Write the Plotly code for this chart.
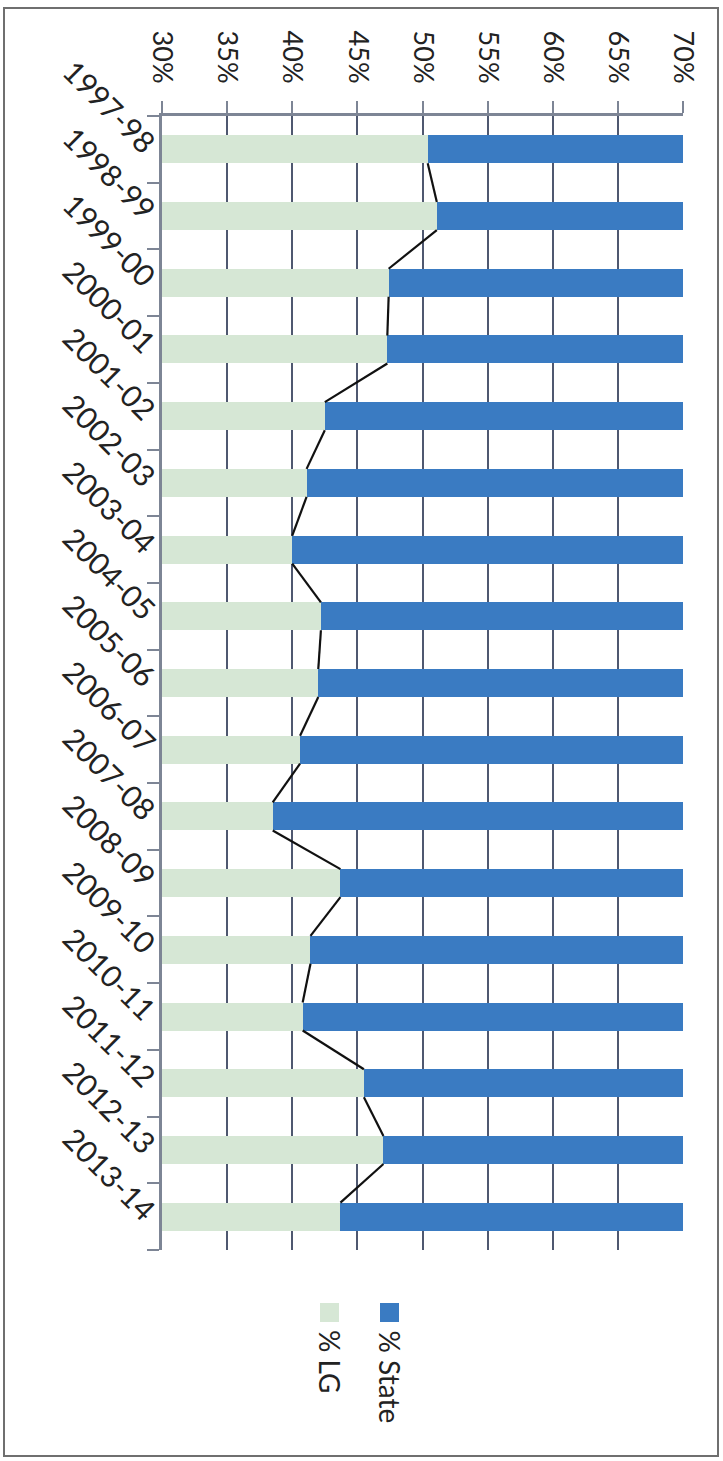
import plotly.graph_objects as go

years = ["1997-98", "1998-99", "1999-00", "2000-01", "2001-02", "2002-03", "2003-04",
         "2004-05", "2005-06", "2006-07", "2007-08", "2008-09", "2009-10", "2010-11",
         "2011-12", "2012-13", "2013-14"]
lg_pct = [50.4, 51.1, 47.4, 47.3, 42.5, 41.1, 40.0, 42.2, 42.0, 40.6, 38.5, 43.7,
          41.4, 40.8, 45.5, 47.0, 43.7]
state_pct = [100 - v for v in lg_pct]
x_ticks = [30, 35, 40, 45, 50, 55, 60, 65, 70]
x_ticktext = [f"{v}%" for v in x_ticks]

BLUE = "#3a7bc2"
GREEN = "#d6e7d5"
FONT = "Lato"
BAR_W = 0.42

pos = list(range(len(years)))

fig = go.Figure()
fig.add_trace(go.Bar(y=pos, x=lg_pct, orientation="h", name="% LG",
                     marker=dict(color=GREEN, line=dict(width=0)), width=BAR_W))
fig.add_trace(go.Bar(y=pos, x=state_pct, orientation="h", name="% State",
                     marker=dict(color=BLUE, line=dict(width=0)), width=BAR_W))

# series lines connecting bar boundaries
sx, sy = [], []
for i in range(len(years) - 1):
    sx += [lg_pct[i], lg_pct[i + 1], None]
    sy += [i + BAR_W / 2, i + 1 - BAR_W / 2, None]
fig.add_trace(go.Scatter(x=sx, y=sy, mode="lines", line=dict(color="#111111", width=2.2),
                         showlegend=False, hoverinfo="skip", cliponaxis=False))

# plot area in pixels: x 162..683, y 116..1250
L, R, T, B = 162, 683, 116, 1250
W, H = R - L, B - T

def px(x):
    return (x - L) / W

def py(y):
    return (B - y) / H

shapes = [
    dict(type="rect", xref="paper", yref="paper", x0=px(4), x1=px(718), y0=py(1456), y1=py(8),
         line=dict(color="#6f6f6f", width=2), fillcolor="rgba(0,0,0,0)", layer="below"),
    dict(type="rect", xref="paper", yref="paper", x0=px(380), x1=px(399), y0=py(1322), y1=py(1303),
         line=dict(width=0), fillcolor=BLUE),
    dict(type="rect", xref="paper", yref="paper", x0=px(320), x1=px(339), y0=py(1322), y1=py(1303),
         line=dict(width=0), fillcolor=GREEN),
]
annotations = [
    dict(text="% State", xref="paper", yref="paper", x=px(390), y=py(1328), textangle=90,
         xanchor="center", yanchor="top", showarrow=False, font=dict(family=FONT, size=28, color="#222")),
    dict(text="% LG", xref="paper", yref="paper", x=px(330), y=py(1328), textangle=90,
         xanchor="center", yanchor="top", showarrow=False, font=dict(family=FONT, size=28, color="#222")),
]

fig.update_layout(
    width=723, height=1461,
    margin=dict(l=L, r=723 - R, t=T, b=1461 - B),
    paper_bgcolor="white", plot_bgcolor="white",
    barmode="stack", bargap=0, showlegend=False,
    font=dict(family=FONT, size=27, color="#222"),
    shapes=shapes, annotations=annotations,
    xaxis=dict(range=[30, 70], side="top", tickvals=x_ticks, ticktext=x_ticktext,
               tickangle=90, ticks="outside", ticklen=12, tickwidth=2, tickcolor="#7d8595",
               ticklabelstandoff=8,
               showgrid=True, gridcolor="#4f5870", gridwidth=2,
               showline=True, linecolor="#7d8595", linewidth=3, zeroline=False,
               tickfont=dict(family=FONT, size=27, color="#222"), fixedrange=True),
    yaxis=dict(range=[16.5, -0.5], tickvals=pos, ticktext=years, tickangle=45,
               ticks="", showgrid=False, zeroline=False,
               showline=True, linecolor="#7d8595", linewidth=3,
               minor=dict(tickvals=[i - 0.5 for i in range(len(years) + 1)], ticks="outside",
                          ticklen=12, tickwidth=2, tickcolor="#7d8595", showgrid=False),
               tickfont=dict(family=FONT, size=30, color="#222"), fixedrange=True),
)

fig.write_html("out.html")
